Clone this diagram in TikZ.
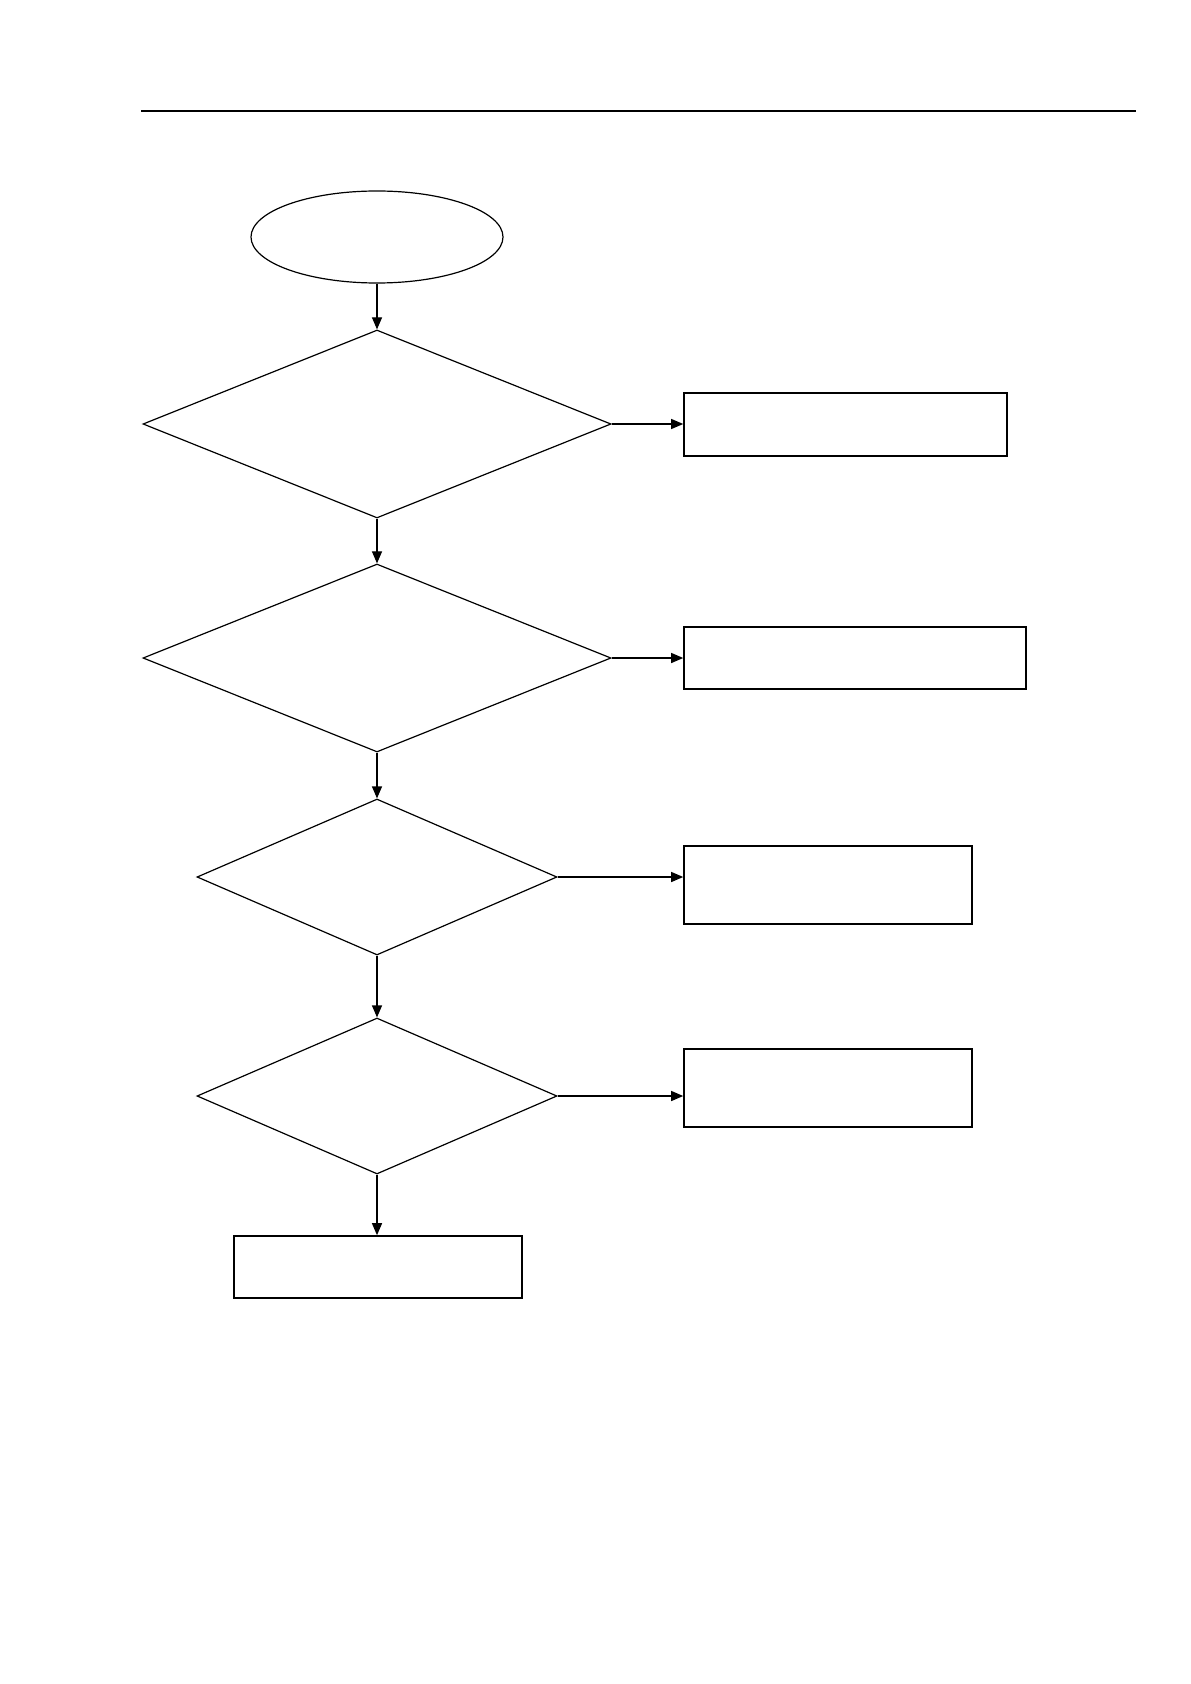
\documentclass[tikz,border=0pt]{standalone}
\usetikzlibrary{shapes.geometric,arrows.meta}

\tikzset{
  startnode/.style={draw, ellipse, line width=0.6pt, minimum width=126pt, minimum height=46pt, inner sep=0pt},
  decision/.style={draw, diamond, line width=0.6pt, inner sep=0pt},
  bigdec/.style={decision, minimum width=234pt, minimum height=94pt},
  smalldec/.style={decision, minimum width=180pt, minimum height=78pt},
  actbox/.style={draw, rectangle, line width=0.8pt, inner sep=0pt},
  flow/.style={-{Triangle[length=6pt, width=5pt]}, line width=0.6pt},
}

\begin{document}
\begin{tikzpicture}[x=0.5pt, y=-0.5pt]
    \useasboundingbox (0,0) rectangle (1190,1684);

    % Kopflinie
    \draw[line width=1pt] (141,111) -- (1136,111);

    % Start
    \node[startnode] (start) at (377,237) {};

    % Abfragen
    \node[bigdec] (q1) at (377,424) {};
    \node[bigdec] (q2) at (377,658) {};
    \node[smalldec] (q3) at (377,877) {};
    \node[smalldec] (q4) at (377,1096) {};

    % Ergebnisse
    \node[actbox, minimum width=161.5pt, minimum height=31.5pt] (r1) at (845.5,424.5) {};
    \node[actbox, minimum width=171pt, minimum height=31pt] (r2) at (855,658) {};
    \node[actbox, minimum width=144pt, minimum height=39pt] (r3) at (828,885) {};
    \node[actbox, minimum width=144pt, minimum height=39pt] (r4) at (828,1088) {};
    \node[actbox, minimum width=144pt, minimum height=31pt] (r5) at (378,1267) {};

    % Pfeile nach unten
    \draw[flow] (start) -- (q1);
    \draw[flow] (q1) -- (q2);
    \draw[flow] (q2) -- (q3);
    \draw[flow] (q3) -- (q4);
    \draw[flow] (q4.south) -- (r5.north -| q4.south);

    % Pfeile nach rechts
    \draw[flow] (q1.east) -- (q1.east -| r1.west);
    \draw[flow] (q2.east) -- (q2.east -| r2.west);
    \draw[flow] (q3.east) -- (q3.east -| r3.west);
    \draw[flow] (q4.east) -- (q4.east -| r4.west);
\end{tikzpicture}
\end{document}
